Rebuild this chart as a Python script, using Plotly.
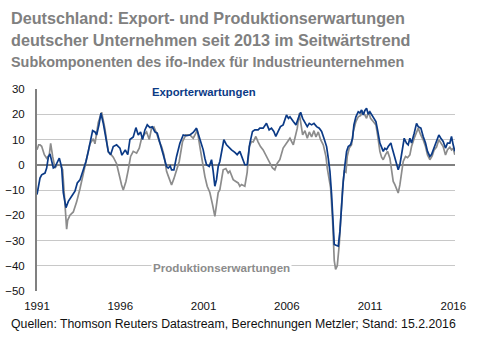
import plotly.graph_objects as go

# Exporterwartungen (decimal year, value)
export_x = [1991.00,1991.18,1991.28,1991.48,1991.58,1991.68,1991.78,1991.88,1991.98,1992.08,1992.18,1992.34,1992.48,1992.58,1992.74,1992.88,1993.08,1993.28,1993.42,1993.58,1993.78,1993.94,1994.08,1994.22,1994.34,1994.48,1994.58,1994.72,1994.84,1994.98,1995.14,1995.28,1995.42,1995.58,1995.78,1995.98,1996.10,1996.30,1996.45,1996.58,1996.78,1996.94,1997.08,1997.22,1997.34,1997.48,1997.62,1997.78,1997.92,1998.08,1998.22,1998.38,1998.48,1998.62,1998.78,1998.88,1999.00,1999.08,1999.22,1999.38,1999.58,1999.78,1999.98,2000.18,2000.38,2000.58,2000.68,2000.78,2000.98,2001.08,2001.18,2001.34,2001.48,2001.58,2001.68,2001.78,2001.88,2001.98,2002.08,2002.22,2002.38,2002.54,2002.68,2002.88,2003.02,2003.18,2003.34,2003.48,2003.62,2003.78,2003.94,2004.08,2004.28,2004.38,2004.58,2004.78,2004.94,2005.08,2005.22,2005.34,2005.48,2005.62,2005.78,2005.98,2006.10,2006.19,2006.39,2006.55,2006.69,2006.83,2006.95,2007.09,2007.23,2007.35,2007.49,2007.63,2007.79,2007.95,2008.09,2008.23,2008.39,2008.49,2008.59,2008.69,2008.79,2008.85,2008.99,2009.09,2009.19,2009.29,2009.39,2009.49,2009.59,2009.69,2009.83,2009.95,2010.03,2010.15,2010.29,2010.39,2010.49,2010.59,2010.69,2010.79,2010.89,2010.99,2011.09,2011.19,2011.35,2011.45,2011.59,2011.69,2011.79,2011.89,2011.99,2012.09,2012.25,2012.33,2012.45,2012.55,2012.69,2012.79,2012.89,2013.05,2013.19,2013.29,2013.39,2013.49,2013.65,2013.79,2013.89,2014.05,2014.19,2014.33,2014.45,2014.59,2014.69,2014.85,2014.99,2015.13,2015.25,2015.39,2015.53,2015.65,2015.79,2015.89,2015.99,2016.09]
export_y = [-11.8,-5.3,-4.0,-3.3,-1.3,3.0,4.3,2.0,-1.3,-0.9,0.7,2.6,-1.0,-11.0,-17.0,-14.5,-12.5,-10.5,-7.2,-6.0,-2.0,1.3,5.3,10.5,13.5,13.0,11.8,15.8,20.4,16.4,10.5,5.3,4.0,7.2,7.9,6.6,3.8,5.9,4.0,10.0,11.0,14.7,11.8,13.0,10.0,13.8,15.8,14.7,15.0,13.0,12.5,8.5,6.6,3.3,-0.7,-1.3,-0.5,-2.0,-2.0,3.3,8.5,11.8,11.5,11.8,12.8,14.5,12.5,9.9,5.9,2.6,0.0,-0.7,2.0,-2.6,-8.5,-5.9,-0.7,1.3,5.3,9.9,7.9,6.6,5.9,4.9,4.0,5.3,2.6,0.0,0.0,8.5,13.2,13.8,13.8,14.5,14.5,16.4,13.8,14.5,13.2,11.2,13.2,15.1,15.8,19.7,18.4,19.0,17.1,15.8,18.4,20.8,18.4,16.4,15.1,16.4,15.8,16.4,15.1,14.5,13.2,10.5,7.2,2.6,-2.6,-11.8,-23.7,-31.6,-32.0,-32.2,-26.3,-14.5,-6.6,0.0,5.3,7.2,7.9,10.5,15.8,19.0,21.0,20.5,21.7,19.7,21.5,22.4,20.0,21.0,20.0,19.0,17.1,13.8,8.6,7.0,5.3,6.5,6.0,7.2,8.6,6.5,3.9,1.3,-2.0,0.0,3.9,10.5,8.5,7.9,10.5,8.6,12.5,16.4,15.1,14.5,11.2,8.6,5.3,3.3,4.0,6.6,9.2,11.8,10.5,9.2,6.6,8.6,8.6,11.2,7.9,5.3]

# Produktionserwartungen (decimal year, value)
prod_x = [1991.00,1991.10,1991.18,1991.28,1991.44,1991.58,1991.74,1991.82,1991.94,1992.08,1992.22,1992.38,1992.54,1992.68,1992.78,1992.84,1992.98,1993.18,1993.38,1993.58,1993.78,1993.98,1994.18,1994.38,1994.48,1994.68,1994.88,1995.08,1995.28,1995.45,1995.58,1995.78,1995.98,1996.08,1996.18,1996.34,1996.48,1996.62,1996.78,1996.98,1997.14,1997.28,1997.42,1997.58,1997.74,1997.88,1998.02,1998.18,1998.34,1998.48,1998.62,1998.78,1998.94,1999.08,1999.22,1999.38,1999.54,1999.74,1999.94,2000.18,2000.38,2000.54,2000.62,2000.78,2000.94,2001.08,2001.22,2001.38,2001.54,2001.68,2001.78,2001.88,2001.98,2002.08,2002.18,2002.34,2002.48,2002.58,2002.68,2002.78,2002.94,2003.08,2003.18,2003.28,2003.48,2003.62,2003.74,2003.88,2003.98,2004.14,2004.28,2004.42,2004.58,2004.78,2004.98,2005.14,2005.28,2005.42,2005.58,2005.78,2005.98,2006.19,2006.39,2006.49,2006.63,2006.75,2006.85,2006.95,2007.09,2007.23,2007.35,2007.49,2007.63,2007.75,2007.89,2008.03,2008.19,2008.35,2008.43,2008.55,2008.63,2008.75,2008.85,2008.93,2009.03,2009.15,2009.25,2009.35,2009.45,2009.55,2009.63,2009.75,2009.89,2009.99,2010.15,2010.29,2010.43,2010.55,2010.69,2010.79,2010.91,2011.03,2011.19,2011.35,2011.45,2011.59,2011.69,2011.79,2011.93,2012.05,2012.19,2012.29,2012.39,2012.49,2012.59,2012.69,2012.79,2012.89,2012.99,2013.13,2013.25,2013.39,2013.49,2013.65,2013.79,2013.89,2014.03,2014.19,2014.33,2014.45,2014.59,2014.73,2014.85,2014.99,2015.13,2015.25,2015.39,2015.53,2015.65,2015.79,2015.89,2015.99,2016.09]
prod_y = [5.9,7.9,7.9,7.3,4.0,2.6,4.0,8.5,3.3,-1.3,0.0,0.0,-2.0,-13.8,-25.5,-22.0,-20.0,-18.7,-14.7,-9.5,-3.5,1.7,8.3,10.3,8.3,16.8,20.8,14.2,5.0,4.0,3.0,0.4,-5.5,-8.0,-10.0,-6.6,-2.0,3.3,5.3,4.6,6.6,10.5,11.8,13.0,10.0,14.5,15.0,12.5,9.2,7.2,4.0,-2.6,-5.5,-8.0,-5.5,-2.0,1.3,9.2,11.8,11.8,10.5,12.5,13.8,7.2,0.7,-4.6,-8.5,-11.0,-15.8,-20.4,-15.8,-11.0,-9.9,-5.9,-2.0,-1.5,-3.3,-2.5,-4.6,-5.9,-6.6,-7.2,-8.5,-7.8,-8.5,-3.0,7.2,9.2,9.0,11.2,9.0,7.2,5.9,3.3,0.7,-1.3,-2.0,0.5,2.0,6.6,8.5,10.5,7.9,11.0,14.5,20.4,16.4,11.8,13.5,10.5,13.0,11.0,13.5,11.0,13.0,9.9,7.9,3.3,-1.3,-7.2,-9.2,-22.4,-38.0,-41.4,-40.0,-31.6,-18.4,-9.2,-2.6,-3.0,3.3,6.6,7.9,13.2,17.1,19.0,19.5,21.0,19.7,18.4,21.0,18.4,17.1,15.8,11.8,5.3,3.0,2.0,4.0,5.3,2.6,-2.0,-6.6,-7.9,-9.9,-11.2,-8.0,-3.3,1.3,3.3,2.8,3.9,7.2,10.5,13.2,14.5,12.0,9.9,7.2,3.9,2.0,3.5,5.9,7.0,9.9,8.5,7.2,3.9,6.0,7.0,5.9,6.5,3.9]

y_ticks = [30, 20, 10, 0, -10, -20, -30, -40, -50]
x_ticks = [1991, 1996, 2001, 2006, 2011, 2016]
x_labels = ["1991", "1996", "2001", "2006", "2011", "2016"]

BLUE = "#0b3a86"
GRAY = "#8c8c8c"
TITLE_GRAY = "#808080"
SANS = "Liberation Sans, Arial, sans-serif"

fig = go.Figure()
fig.add_trace(go.Scatter(x=prod_x, y=prod_y, mode="lines",
                         line=dict(color=GRAY, width=1.7), showlegend=False))
fig.add_trace(go.Scatter(x=export_x, y=export_y, mode="lines",
                         line=dict(color=BLUE, width=1.7), showlegend=False))

fig.update_layout(
    width=481, height=354,
    margin=dict(l=37, r=26, t=89, b=62.5, autoexpand=False),
    paper_bgcolor="white", plot_bgcolor="white",
    xaxis=dict(range=[1991, 2016.1], tickvals=x_ticks, ticktext=x_labels,
               showgrid=False, zeroline=False, showline=False, ticks="",
               ticklabelstandoff=6,
               tickfont=dict(family=SANS, size=11.5, color="#111111")),
    yaxis=dict(range=[-50, 30], tickvals=y_ticks, showgrid=True,
               gridcolor="#c8c8c8", gridwidth=1,
               zeroline=True, zerolinecolor="#808080", zerolinewidth=2,
               showline=True, linecolor="#808080", linewidth=2,
               ticks="", ticklabelstandoff=8,
               tickfont=dict(family=SANS, size=11.5, color="#111111")),
)

def py(px):
    return (291.5 - px) / 202.5

annotations = [
    dict(text="<b>Deutschland: Export- und Produktionserwartungen</b>",
         xref="paper", yref="paper", x=-0.067, y=py(17.5), xanchor="left", yanchor="middle",
         align="left", showarrow=False,
         font=dict(family=SANS, size=16.2, color=TITLE_GRAY)),
    dict(text="<b>deutscher Unternehmen seit 2013 im Seitwärtstrend</b>",
         xref="paper", yref="paper", x=-0.067, y=py(39.5), xanchor="left", yanchor="middle",
         align="left", showarrow=False,
         font=dict(family=SANS, size=16.2, color=TITLE_GRAY)),
    dict(text="<b>Subkomponenten des ifo-Index für Industrieunternehmen</b>",
         xref="paper", yref="paper", x=-0.067, y=py(62), xanchor="left", yanchor="middle",
         align="left", showarrow=False,
         font=dict(family=SANS, size=14.4, color=TITLE_GRAY)),
    dict(text="Quellen: Thomson Reuters Datastream, Berechnungen Metzler; Stand: 15.2.2016",
         xref="paper", yref="paper", x=-0.067, y=py(325), xanchor="left", yanchor="middle",
         align="left", showarrow=False,
         font=dict(family=SANS, size=12.3, color="#111111")),
    dict(text="<b>Exporterwartungen</b>", xref="x", yref="y", x=2001.05, y=28.9,
         xanchor="center", yanchor="middle", showarrow=False, bgcolor="white",
         font=dict(family=SANS, size=11.3, color=BLUE)),
    dict(text="<b>Produktionserwartungen</b>", xref="x", yref="y", x=2002.05, y=-40.5,
         xanchor="center", yanchor="middle", showarrow=False, bgcolor="white",
         font=dict(family=SANS, size=11.6, color=GRAY)),
]
fig.update_layout(annotations=annotations)

fig.write_html("out.html")
